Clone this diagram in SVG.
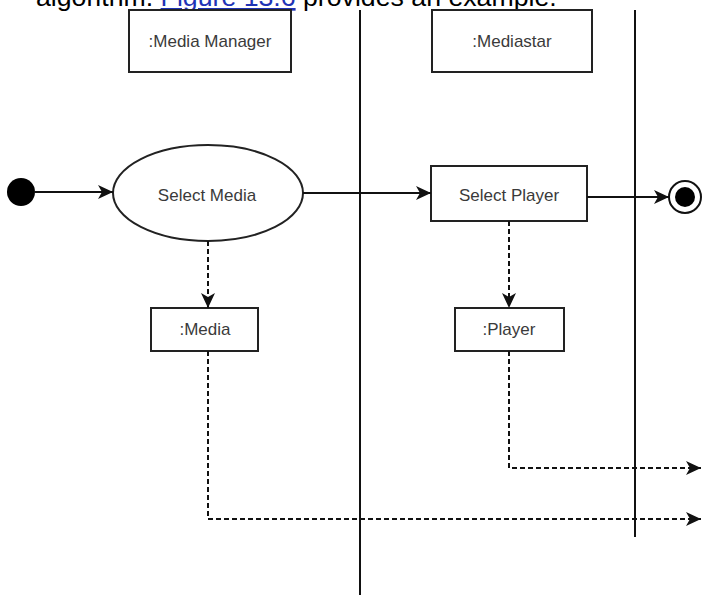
<svg xmlns="http://www.w3.org/2000/svg" width="702" height="595" viewBox="0 0 702 595">
<defs>
<style>
.box{fill:#fff;stroke:#222;stroke-width:2}
.lbl{font-family:"Liberation Sans",Arial,sans-serif;font-size:17px;fill:#3a3a3a;text-anchor:middle}
.solid{fill:none;stroke:#111;stroke-width:2}
.dash{fill:none;stroke:#111;stroke-width:2;stroke-dasharray:5,3}
.lane{stroke:#111;stroke-width:2}
.para{font-family:"Liberation Sans",Arial,sans-serif;font-size:26.7px;fill:#000}
</style>
<marker id="arr" markerUnits="userSpaceOnUse" markerWidth="16" markerHeight="14" refX="15" refY="7" orient="auto">
<path d="M0,0 L15,7 L0,14 L4,7 z" fill="#111"/>
</marker>
</defs>
<rect width="702" height="595" fill="#fff"/>
<g id="caption">
<text class="para" x="36" y="6">algorithm. <tspan fill="#1f33b5" text-decoration="underline">Figure 13.6</tspan> provides an example.</text>
</g>
<g id="lanes">
<line class="lane" x1="360" y1="10" x2="360" y2="595"/>
<line class="lane" x1="635" y1="10" x2="635" y2="537"/>
</g>
<g id="media-manager">
<rect class="box" x="129" y="10" width="162" height="62"/>
<text class="lbl" x="210" y="47">:Media Manager</text>
</g>
<g id="mediastar">
<rect class="box" x="432" y="10" width="160" height="62"/>
<text class="lbl" x="512" y="47">:Mediastar</text>
</g>
<g id="start">
<circle cx="21" cy="192" r="14" fill="#000"/>
</g>
<g id="select-media">
<ellipse class="box" cx="208" cy="193" rx="95" ry="48"/>
<text class="lbl" x="207" y="201">Select Media</text>
</g>
<g id="select-player">
<rect class="box" x="431" y="166" width="156" height="55"/>
<text class="lbl" x="509" y="201">Select Player</text>
</g>
<g id="end">
<circle cx="685" cy="197" r="16" fill="#fff" stroke="#111" stroke-width="2"/>
<circle cx="685" cy="197" r="10" fill="#000"/>
</g>
<g id="media">
<rect class="box" x="151" y="308" width="107" height="43"/>
<text class="lbl" x="205" y="335">:Media</text>
</g>
<g id="player">
<rect class="box" x="455" y="308" width="109" height="43"/>
<text class="lbl" x="509" y="335">:Player</text>
</g>
<g id="connectors">
<line class="solid" x1="35" y1="192" x2="113" y2="192" marker-end="url(#arr)"/>
<line class="solid" x1="303" y1="193" x2="431" y2="193" marker-end="url(#arr)"/>
<line class="solid" x1="587" y1="197" x2="669" y2="197" marker-end="url(#arr)"/>
<line class="dash" x1="208" y1="241" x2="208" y2="308" marker-end="url(#arr)"/>
<line class="dash" x1="509" y1="221" x2="509" y2="308" marker-end="url(#arr)"/>
<polyline class="dash" points="208,351 208,519 701,519" marker-end="url(#arr)"/>
<polyline class="dash" points="509,351 509,468 701,468" marker-end="url(#arr)"/>
</g>
</svg>
